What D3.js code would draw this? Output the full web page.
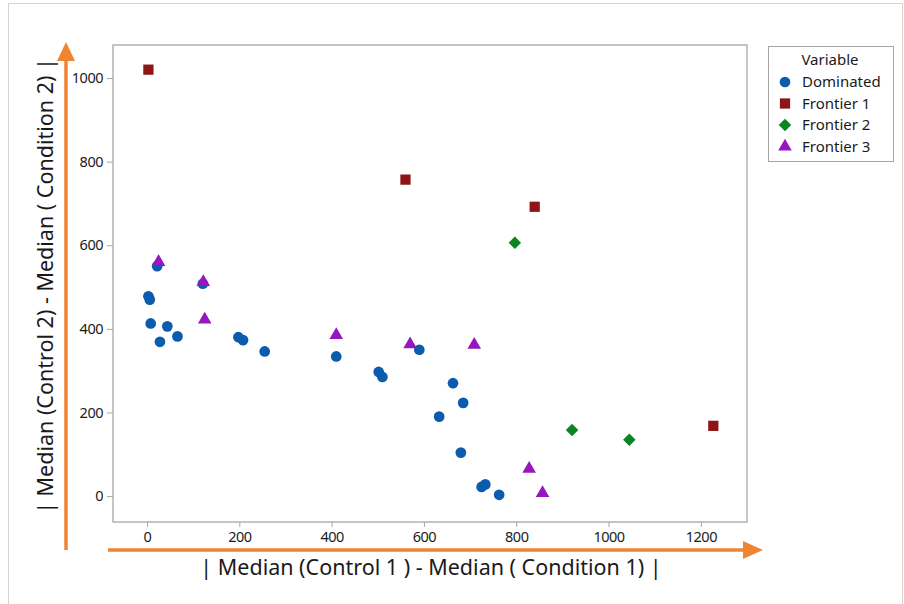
<!DOCTYPE html>
<html>
<head>
<meta charset="utf-8">
<script src="https://cdn.jsdelivr.net/npm/d3@7"></script>
<style>
  body { margin: 0; background: #fff; }
  text { font-family: "Noto Sans", "Open Sans", sans-serif; fill: #1a1a1a; }
</style>
</head>
<body>
<div id="chart"></div>
<script>
// Points, one array per group: [x, y]
var dominated = [
  [22, 550], [3, 478], [6, 470], [8, 413], [28, 369], [44, 406], [66, 382],
  [121, 508], [198, 380], [208, 373], [255, 346], [410, 334],
  [502, 297], [510, 285], [590, 350], [663, 270], [685, 223], [633, 190],
  [680, 104], [725, 22], [733, 28], [763, 3]
];
var frontier1 = [[3, 1020], [560, 757], [840, 692], [1227, 168]];
var frontier2 = [[797, 606], [921, 158], [1045, 135]];
var frontier3 = [
  [25, 560], [122, 512], [125, 422], [410, 385], [570, 363],
  [709, 362], [828, 65], [857, 7]
];
var seriesNames = ["Dominated", "Frontier 1", "Frontier 2", "Frontier 3"];
var xTicks = [0, 200, 400, 600, 800, 1000, 1200];
var yTicks = [0, 200, 400, 600, 800, 1000];

var W = 904, H = 604;
var plot = {left: 113, top: 45, right: 747, bottom: 522};

var svg = d3.select("#chart").append("svg")
    .attr("width", W)
    .attr("height", H);

// outer frame of the picture
svg.append("rect")
    .attr("x", 8.5).attr("y", 3.5)
    .attr("width", 894).attr("height", 610)
    .attr("fill", "none")
    .attr("stroke", "#d4d4d4");

var x = d3.scaleLinear().domain([-73.7, 1300]).range([plot.left, plot.right]);
var y = d3.scaleLinear().domain([-62, 1079]).range([plot.bottom, plot.top]);

// plot frame
svg.append("rect")
    .attr("x", plot.left).attr("y", plot.top)
    .attr("width", plot.right - plot.left)
    .attr("height", plot.bottom - plot.top)
    .attr("fill", "none")
    .attr("stroke", "#a6a6a6")
    .attr("stroke-width", 1.3);

// axes
var xAxis = d3.axisBottom(x).tickValues(xTicks).tickFormat(d3.format("d"))
    .tickSize(5).tickSizeOuter(0).tickPadding(5);
var yAxis = d3.axisLeft(y).tickValues(yTicks).tickFormat(d3.format("d"))
    .tickSize(6).tickSizeOuter(0).tickPadding(4);

var gx = svg.append("g")
    .attr("transform", "translate(0," + plot.bottom + ")")
    .call(xAxis);
var gy = svg.append("g")
    .attr("transform", "translate(" + plot.left + ",0)")
    .call(yAxis);

[gx, gy].forEach(function(g) {
  g.select(".domain").remove();
  g.selectAll(".tick line").attr("stroke", "#a6a6a6");
  g.selectAll(".tick text")
      .style("font-size", "14.5px")
      .style("font-family", "'Noto Sans', sans-serif")
      .style("letter-spacing", "-0.5px")
      .attr("fill", "#1a1a1a");
});

// orange arrows along the axes
var orange = "#ef8533";
svg.append("line")
    .attr("x1", 66).attr("y1", 550).attr("x2", 66).attr("y2", 58)
    .attr("stroke", orange).attr("stroke-width", 3.5);
svg.append("path")
    .attr("d", "M66,42 L57,61 L75,61 Z")
    .attr("fill", orange);
svg.append("line")
    .attr("x1", 108).attr("y1", 550).attr("x2", 746).attr("y2", 550)
    .attr("stroke", orange).attr("stroke-width", 3.5);
svg.append("path")
    .attr("d", "M763,550 L743,541 L743,559 Z")
    .attr("fill", orange);

// axis titles
svg.append("text")
    .attr("x", 431).attr("y", 575)
    .attr("text-anchor", "middle")
    .style("font-size", "21.5px")
    .text("| Median (Control 1 ) - Median ( Condition 1) |");

svg.append("text")
    .attr("text-anchor", "middle")
    .attr("transform", "translate(53,286) rotate(-90)")
    .style("font-size", "21.5px")
    .text("| Median (Control 2) - Median ( Condition 2) |");

// markers
var colors = ["#0b5cad", "#8e1515", "#0b8424", "#9617bf"];
var shapes = [
  d3.symbol().type(d3.symbolCircle).size(90),
  d3.symbol().type(d3.symbolSquare).size(105),
  d3.symbol().type(d3.symbolSquare).size(78),
  d3.symbol().type(d3.symbolTriangle).size(80)
];
var rotations = [0, 0, 45, 0];
var groups = [dominated, frontier1, frontier2, frontier3];

groups.forEach(function(pts, i) {
  svg.append("g").selectAll("path")
      .data(pts)
      .enter().append("path")
      .attr("d", shapes[i])
      .attr("fill", colors[i])
      .attr("transform", function(d) {
        return "translate(" + x(d[0]) + "," + y(d[1]) + ") rotate(" + rotations[i] + ")";
      });
});

// legend
var legend = svg.append("g").attr("transform", "translate(768,46)");
legend.append("rect")
    .attr("x", 0.5).attr("y", 0.5)
    .attr("width", 125).attr("height", 115)
    .attr("fill", "#fff")
    .attr("stroke", "#a6a6a6");
legend.append("text")
    .attr("x", 62).attr("y", 19)
    .attr("text-anchor", "middle")
    .style("font-size", "15px")
    .text("Variable");

var item = legend.selectAll(".item")
    .data(seriesNames)
    .enter().append("g")
    .attr("class", "item")
    .attr("transform", function(d, i) { return "translate(0," + (36 + i * 21.5) + ")"; });

item.append("path")
    .attr("d", function(d, i) { return shapes[i](); })
    .attr("fill", function(d, i) { return colors[i]; })
    .attr("transform", function(d, i) { return "translate(17,0) rotate(" + rotations[i] + ")"; });

item.append("text")
    .attr("x", 34).attr("dy", "0.35em")
    .style("font-size", "15px")
    .text(function(d) { return d; });
</script>
</body>
</html>
